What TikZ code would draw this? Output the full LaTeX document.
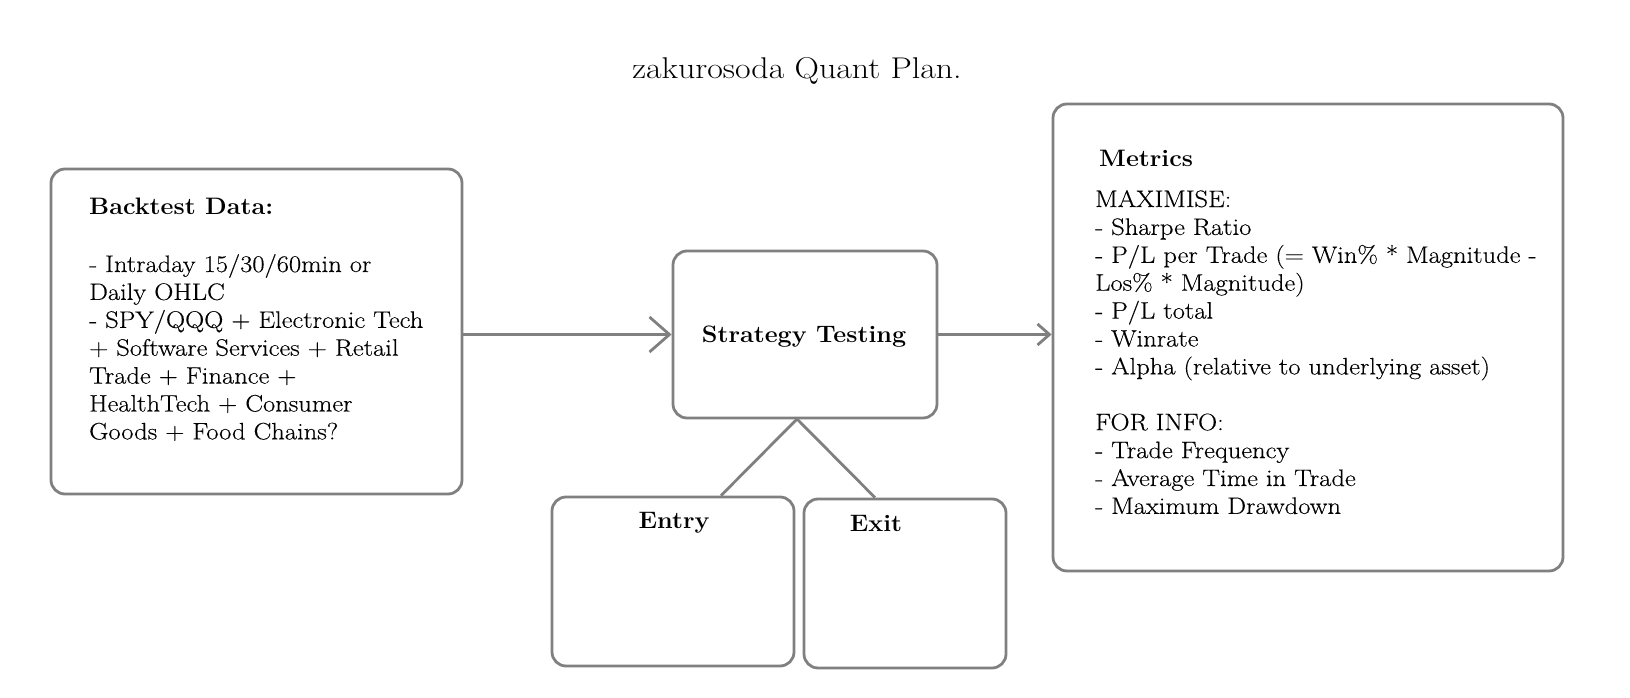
\documentclass[tikz,border=0pt]{standalone}
\usepackage{fontspec}
\newfontfamily\bodyrm{Latin Modern Roman}[FakeStretch=1.115, FakeBold=0.3]
\newfontfamily\hdrrm{Latin Modern Roman}[FakeStretch=1.055]
\newfontfamily\titlerm{Latin Modern Roman}[FakeStretch=1.13]
\usetikzlibrary{arrows.meta}
\definecolor{boxgray}{RGB}{128,128,128}
\tikzset{
  box/.style={draw=boxgray, line width=2.8pt, rounded corners=14pt, inner sep=0pt},
  txt/.style={inner sep=0pt, anchor=base west, font=\bodyrm\fontsize{23.8}{27.9}\selectfont},
  hdr/.style={inner sep=0pt, font=\hdrrm\fontsize{23.8}{27.9}\selectfont\bfseries},
  conn/.style={draw=boxgray, line width=2.8pt},
}
\begin{document}
\begin{tikzpicture}[x=1pt,y=-1pt]
\useasboundingbox (0,0) rectangle (1630,698);
% title
\node[inner sep=0pt, anchor=base, font=\titlerm\fontsize{30}{36}\selectfont] (title) at (797,79) {zakurosoda Quant Plan.};
% boxes
\node[box, minimum width=411pt, minimum height=325pt] (bt) at (256.5,331.5) {};
\node[box, minimum width=264pt, minimum height=167pt] (st) at (805,334.5) {};
\node[box, minimum width=242pt, minimum height=169pt] (en) at (673,581.5) {};
\node[box, minimum width=202pt, minimum height=169pt] (ex) at (905,583.5) {};
\node[box, minimum width=510pt, minimum height=467pt] (met) at (1308,337.5) {};
% texts
\node[hdr, anchor=base west] (btT) at (89,214) {Backtest Data:};
\node[txt] (btB) at (89,272) {\vtop{%
  \hbox{- Intraday 15/30/60min or}
  \hbox{Daily OHLC}
  \hbox{- SPY/QQQ + Electronic Tech}
  \hbox{+ Software Services + Retail}
  \hbox{Trade + Finance +}
  \hbox{HealthTech + Consumer}
  \hbox{Goods + Food Chains?}}};
\node[hdr, anchor=base] (stT) at (804,342) {Strategy Testing};
\node[hdr, anchor=base] (enT) at (674,528) {Entry};
\node[hdr, anchor=base] (exT) at (876,531) {Exit};
\node[hdr, anchor=base west] (metT) at (1099,166) {Metrics};
\node[txt] (metB) at (1095,207) {\vtop{%
  \hbox{MAXIMISE:}
  \hbox{- Sharpe Ratio}
  \hbox{- P/L per Trade (= Win\% * Magnitude -}
  \hbox{Los\% * Magnitude)}
  \hbox{- P/L total}
  \hbox{- Winrate}
  \hbox{- Alpha (relative to underlying asset)}
  \hbox{}
  \hbox{FOR INFO:}
  \hbox{- Trade Frequency}
  \hbox{- Average Time in Trade}
  \hbox{- Maximum Drawdown}}};
% connectors
\draw[conn, -{Straight Barb[length=20pt, width=35pt]}] (bt.east |- st.west) -- (st.west);
\draw[conn, -{Straight Barb[length=12pt, width=21pt]}] (st.east) -- (st.east -| met.west);
\coordinate (apex) at (797,419);
\draw[conn] (apex) -- ([xshift=48pt]en.north);
\draw[conn] (apex) -- ([xshift=-30pt]ex.north);
\end{tikzpicture}
\end{document}
